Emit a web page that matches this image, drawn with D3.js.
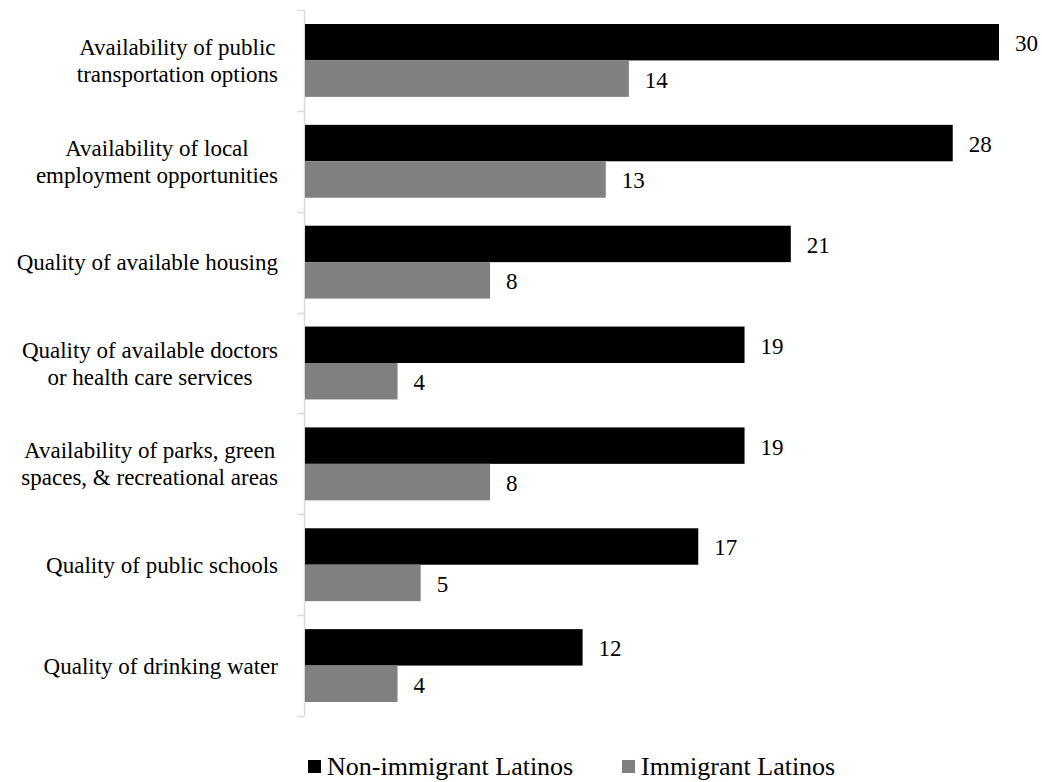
<!DOCTYPE html>
<html>
<head>
<meta charset="utf-8">
<script src="https://cdn.jsdelivr.net/npm/d3@7/dist/d3.min.js"></script>
</head>
<body>
<svg id="chart" width="1042" height="782"></svg>
<script>
// Community features rated as a problem, by group (%)
const categories = [
  "Availability of public\ntransportation options",
  "Availability of local\nemployment opportunities",
  "Quality of available housing",
  "Quality of available doctors\nor health care services",
  "Availability of parks, green\nspaces, & recreational areas",
  "Quality of public schools",
  "Quality of drinking water"
];
const seriesNames = ["Non-immigrant Latinos", "Immigrant Latinos"];
const nonImmigrant = [30, 28, 21, 19, 19, 17, 12];
const immigrant = [14, 13, 8, 4, 8, 5, 4];
const seriesColors = ["#000000", "#808080"];

d3.select("body").style("margin", "0").style("background", "#fff");
const svg = d3.select("#chart").style("display", "block");
const axisX = 304.5;

const x = d3.scaleLinear().domain([0, 30]).range([305, 999]);
const y = d3.scaleBand().domain(categories).range([10, 716]).padding(0);
const inner = d3.scaleBand().domain(seriesNames).range([0, y.bandwidth()])
  .paddingInner(0).paddingOuter(0.384);

const rows = categories.map((c, i) => ({ c, vals: [nonImmigrant[i], immigrant[i]] }));

// category axis: light rule with ticks at the band boundaries
const axis = svg.append("g").attr("class", "axis");
axis.append("line")
  .attr("x1", axisX).attr("x2", axisX)
  .attr("y1", y.range()[0]).attr("y2", y.range()[1])
  .attr("stroke", "#d9d9d9").attr("stroke-width", 1.5);
const bounds = categories.map(c => y(c)).concat([y.range()[1]]);
axis.selectAll("line.tick").data(bounds).join("line")
  .attr("class", "tick")
  .attr("x1", axisX - 7).attr("x2", axisX)
  .attr("y1", d => Math.round(d) + 0.5).attr("y2", d => Math.round(d) + 0.5)
  .attr("stroke", "#d9d9d9").attr("stroke-width", 1.5);

// bars and value labels
const groups = svg.append("g").selectAll("g.row").data(rows).join("g")
  .attr("class", "row")
  .attr("transform", d => `translate(0,${y(d.c)})`);

groups.selectAll("rect").data(d => d.vals.map((v, k) => ({ v, k }))).join("rect")
  .attr("x", x(0))
  .attr("y", d => inner(seriesNames[d.k]))
  .attr("width", d => x(d.v) - x(0))
  .attr("height", inner.bandwidth())
  .attr("fill", d => seriesColors[d.k]);

groups.selectAll("text.value").data(d => d.vals.map((v, k) => ({ v, k }))).join("text")
  .attr("class", "value")
  .style("font-family", '"Liberation Serif"')
  .attr("x", d => x(d.v) + 16)
  .attr("y", d => inner(seriesNames[d.k]) + inner.bandwidth() / 2 + 9)
  .attr("font-size", 23)
  .text(d => d.v);

// category labels: lines centred on each other, block right-aligned to the axis
const labelRight = 278;
const lineH = 27;
svg.append("g").selectAll("text.cat").data(categories).join("text")
  .attr("class", "cat")
  .style("font-family", '"Liberation Serif"')
  .attr("font-size", 23)
  .attr("text-anchor", "middle")
  .each(function (c) {
    const lines = c.split("\n");
    const t = d3.select(this);
    const cy = y(c) + y.bandwidth() / 2;
    lines.forEach((ln, i) => {
      t.append("tspan")
        .attr("y", cy + (i - (lines.length - 1) / 2) * lineH + 8)
        .text(ln);
    });
    let w = 0;
    t.selectAll("tspan").each(function () { w = Math.max(w, this.getComputedTextLength()); });
    t.selectAll("tspan").attr("x", labelRight - w / 2);
  });

// legend
const legend = svg.append("g").attr("class", "legend");
const legendX = [308, 622];
seriesNames.forEach((name, k) => {
  legend.append("rect")
    .attr("x", legendX[k]).attr("y", 760)
    .attr("width", 13).attr("height", 13)
    .attr("fill", seriesColors[k]);
  legend.append("text")
    .style("font-family", '"Liberation Serif"')
    .attr("x", legendX[k] + 19).attr("y", 775)
    .attr("font-size", 26)
    .text(name);
});
</script>
</body>
</html>
